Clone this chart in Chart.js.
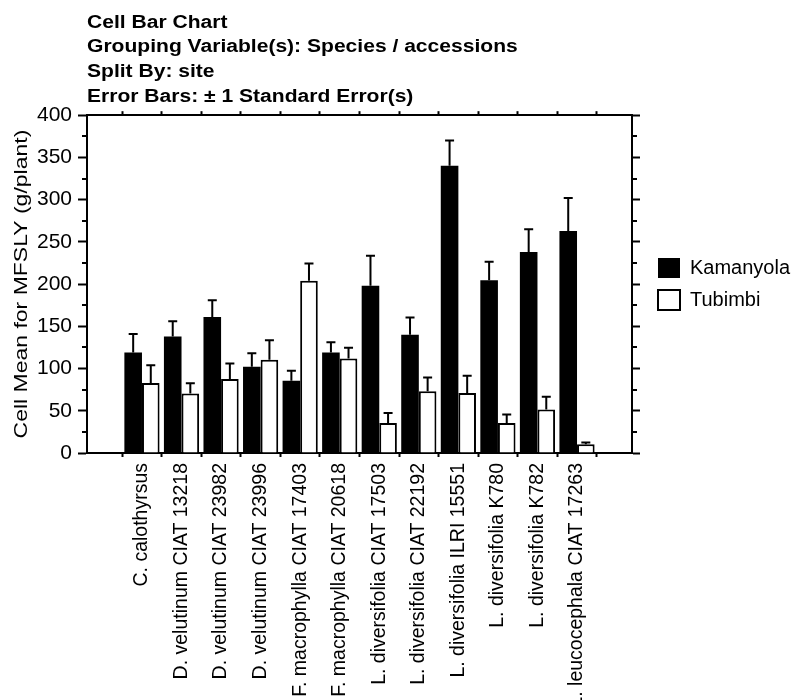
<!DOCTYPE html>
<html>
<head>
<meta charset="utf-8">
<script src="https://cdn.jsdelivr.net/npm/chart.js@4.4.1/dist/chart.umd.min.js"></script>
<style>
  body { margin: 0; background: #fff; }
  #cellBarChart { display: block; }
</style>
</head>
<body>
<canvas id="cellBarChart" width="798" height="700"></canvas>
<script>
"use strict";

// Species / accessions (grouping variable)
const categories = [
  "C. calothyrsus",
  "D. velutinum CIAT 13218",
  "D. velutinum CIAT 23982",
  "D. velutinum CIAT 23996",
  "F. macrophylla CIAT 17403",
  "F. macrophylla CIAT 20618",
  "L. diversifolia CIAT 17503",
  "L. diversifolia CIAT 22192",
  "L. diversifolia ILRI 15551",
  "L. diversifolia K780",
  "L. diversifolia K782",
  "L. leucocephala CIAT 17263",
];

// Cell means for MFSLY (g/plant), split by site
const kamanyola = [119, 138, 161, 102, 85.5, 119, 198, 140, 340, 204.5, 238, 263];
const tubimbi = [83, 70.5, 87.5, 110.5, 204, 112, 35.5, 73, 71, 35.5, 51.5, 10.5];

// +1 standard error
const kamanyolaSE = [22, 18, 20, 16, 12, 12, 35.5, 20.5, 30, 22, 27, 39];
const tubimbiSE = [21, 12, 18.5, 23, 20.5, 12.5, 12, 16.5, 20.5, 10, 15, 2];

const yTicks = [0, 50, 100, 150, 200, 250, 300, 350, 400];

const FONT = "'Liberation Sans', Arial, sans-serif";
Chart.defaults.color = "#000";
Chart.defaults.font.family = FONT;

const errors = [kamanyolaSE, tubimbiSE];

// upward error bars with a cap
const errorBars = {
  id: "errorBars",
  afterDatasetsDraw(chart) {
    const ctx = chart.ctx;
    const yScale = chart.scales.y;
    ctx.save();
    ctx.strokeStyle = "#000";
    ctx.lineWidth = 2;
    chart.data.datasets.forEach((ds, i) => {
      const meta = chart.getDatasetMeta(i);
      meta.data.forEach((bar, j) => {
        const top = yScale.getPixelForValue(ds.data[j].y + errors[i][j]);
        ctx.beginPath();
        ctx.moveTo(bar.x, bar.y);
        ctx.lineTo(bar.x, top);
        ctx.moveTo(bar.x - 4.5, top);
        ctx.lineTo(bar.x + 4.5, top);
        ctx.stroke();
      });
    });
    ctx.restore();
  },
};

// short minor ticks between the labelled ones on both value axes
const minorTicks = {
  id: "minorTicks",
  afterDraw(chart) {
    const ctx = chart.ctx;
    const left = chart.scales.y;
    const right = chart.scales.y2;
    ctx.save();
    ctx.strokeStyle = "#000";
    ctx.lineWidth = 2;
    for (let k = 0; k < yTicks.length - 1; k++) {
      const v = (yTicks[k] + yTicks[k + 1]) / 2;
      const py = Math.round(left.getPixelForValue(v));
      ctx.beginPath();
      ctx.moveTo(left.right, py);
      ctx.lineTo(left.right - 5, py);
      ctx.moveTo(right.left, py);
      ctx.lineTo(right.left + 5, py);
      ctx.stroke();
    }
    ctx.restore();
  },
};

// the original type is wide, so stretch the title and the y title along the text
function stretched(obj, fn, sx, sy, origin) {
  if (!obj || obj["_wide_" + fn]) return;
  const orig = obj[fn];
  obj[fn] = function () {
    const ctx = this.ctx;
    const o = origin(this);
    ctx.save();
    ctx.translate(o.x, o.y);
    ctx.scale(sx, sy);
    ctx.translate(-o.x, -o.y);
    orig.apply(this, arguments);
    ctx.restore();
  };
  obj["_wide_" + fn] = true;
}
const wideText = {
  id: "wideText",
  beforeDraw(chart) {
    stretched(chart.titleBlock, "draw", 1.17, 1, (b) => ({ x: b.left, y: 0 }));
    stretched(chart.scales.y, "drawTitle", 1, 1.21, (s) => ({ x: 0, y: (s.top + s.bottom) / 2 }));
  },
};

const data = {
  datasets: [
    {
      label: "Kamanyola",
      data: kamanyola.map((v, i) => ({ x: i, y: v })),
      backgroundColor: "#000",
      borderColor: "#000",
      borderWidth: 0,
    },
    {
      label: "Tubimbi",
      data: tubimbi.map((v, i) => ({ x: i, y: v })),
      backgroundColor: "#fff",
      borderColor: "#000",
      borderWidth: 2,
    },
  ],
};

const catTicks = (scale) => {
  scale.ticks = categories.map((c, i) => ({ value: i }));
};

const config = {
  type: "bar",
  data: data,
  options: {
    responsive: false,
    animation: false,
    categoryPercentage: 0.89,
    barPercentage: 1.0,
    layout: { padding: 0 },
    plugins: {
      tooltip: { enabled: false },
      title: {
        display: true,
        fullSize: false,
        align: "start",
        text: [
          "Cell Bar Chart",
          "Grouping Variable(s): Species / accessions",
          "Split By: site",
          "Error Bars: \u00b1 1 Standard Error(s)",
        ],
        font: { size: 18, weight: "bold", lineHeight: 24.67 / 18 },
        padding: { top: 10.5, bottom: 1 },
      },
      legend: {
        position: "right",
        fullSize: false,
        align: "center",
        maxWidth: 152,
        labels: {
          boxWidth: 22,
          boxHeight: 20,
          padding: 12,
          font: { size: 20 },
        },
      },
    },
    scales: {
      x: {
        type: "linear",
        position: "bottom",
        offset: false,
        min: -1.39,
        max: 12.39,
        afterBuildTicks: catTicks,
        afterFit: (scale) => { scale.height = 247; },
        grid: { drawOnChartArea: false, tickLength: 4, tickWidth: 2, tickColor: "#000" },
        border: { color: "#000", width: 2 },
        ticks: {
          autoSkip: false,
          minRotation: 90,
          maxRotation: 90,
          padding: 6,
          font: { size: 19.5 },
          callback: (value) => categories[value],
        },
      },
      x2: {
        type: "linear",
        position: "top",
        offset: false,
        min: -1.39,
        max: 12.39,
        afterBuildTicks: catTicks,
        afterFit: (scale) => { scale.height = 5; },
        grid: { drawOnChartArea: false, tickLength: 4, tickWidth: 2, tickColor: "#000" },
        border: { color: "#000", width: 2 },
        ticks: { display: false },
      },
      y: {
        min: 0,
        max: 400,
        afterBuildTicks: (scale) => { scale.ticks = yTicks.map((v) => ({ value: v })); },
        afterFit: (scale) => { scale.width = 87; },
        grid: { drawOnChartArea: false, tickLength: 9, tickWidth: 2, tickColor: "#000" },
        border: { color: "#000", width: 2 },
        ticks: { padding: 6, font: { size: 21 } },
        title: {
          display: true,
          text: "Cell Mean for MFSLY (g/plant)",
          font: { size: 19 },
          padding: { top: 10, bottom: 0 },
        },
      },
      y2: {
        position: "right",
        min: 0,
        max: 400,
        afterBuildTicks: (scale) => { scale.ticks = yTicks.map((v) => ({ value: v })); },
        afterFit: (scale) => { scale.width = 14; },
        grid: { drawOnChartArea: false, tickLength: 8, tickWidth: 2, tickColor: "#000" },
        border: { color: "#000", width: 2 },
        ticks: { display: false },
      },
    },
  },
  plugins: [errorBars, minorTicks, wideText],
};

const cellChart = new Chart(document.getElementById("cellBarChart"), config);
</script>
</body>
</html>
